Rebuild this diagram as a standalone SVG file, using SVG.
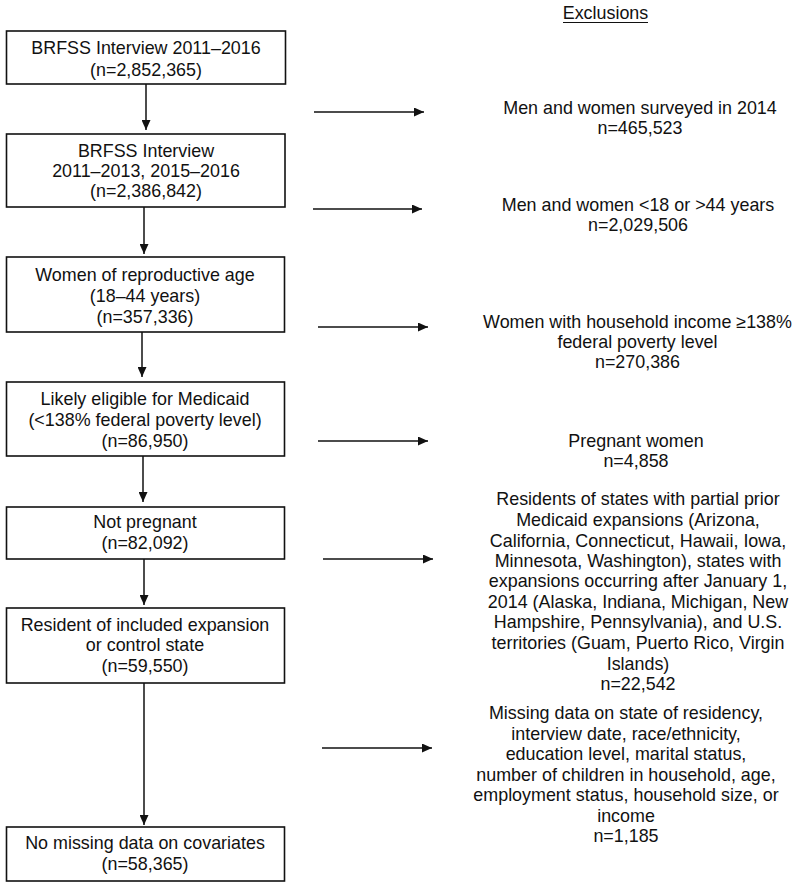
<svg xmlns="http://www.w3.org/2000/svg" width="800" height="890" viewBox="0 0 800 890">
<defs>
<marker id="ah" markerUnits="userSpaceOnUse" markerWidth="10" markerHeight="9" refX="10" refY="4.5" orient="auto">
<path d="M0,0 L10,4.5 L0,9 z" fill="#111"/>
</marker>
<style>
.box{fill:#fff;stroke:#111;stroke-width:1.6}
text{font-family:"Liberation Sans",Arial,sans-serif;font-size:17.9px;fill:#111;text-anchor:middle}
.con{stroke:#111;stroke-width:1.5;fill:none;marker-end:url(#ah)}
</style>
</defs>
<rect width="800" height="890" fill="#fff"/>

<g id="n1"><rect class="box" x="6.5" y="31" width="279" height="53"/>
<text x="146" y="54">BRFSS Interview 2011–2016</text><text x="146" y="76">(n=2,852,365)</text></g>
<g id="n2"><rect class="box" x="6.5" y="134" width="278.5" height="73"/>
<text x="146" y="157">BRFSS Interview</text><text x="146" y="177">2011–2013, 2015–2016</text><text x="146" y="197">(n=2,386,842)</text></g>
<g id="n3"><rect class="box" x="6.5" y="257" width="278" height="75"/>
<text x="145" y="281">Women of reproductive age</text><text x="145" y="302">(18–44 years)</text><text x="145" y="323">(n=357,336)</text></g>
<g id="n4"><rect class="box" x="6.5" y="382" width="278" height="74"/>
<text x="145" y="405">Likely eligible for Medicaid</text><text x="145" y="426">(&lt;138% federal poverty level)</text><text x="145" y="447">(n=86,950)</text></g>
<g id="n5"><rect class="box" x="6.5" y="507" width="278" height="52"/>
<text x="145" y="528">Not pregnant</text><text x="145" y="549">(n=82,092)</text></g>
<g id="n6"><rect class="box" x="6.5" y="608" width="278" height="75"/>
<text x="145" y="631">Resident of included expansion</text><text x="145" y="651">or control state</text><text x="145" y="672">(n=59,550)</text></g>
<g id="n7"><rect class="box" x="6.5" y="827" width="278" height="54"/>
<text x="145" y="849">No missing data on covariates</text><text x="145" y="870">(n=58,365)</text></g>

<g id="hdr"><text x="605.5" y="19">Exclusions</text><line x1="563" y1="22.5" x2="648" y2="22.5" stroke="#111" stroke-width="1"/></g>

<g id="e1"><text x="640" y="114">Men and women surveyed in 2014</text><text x="640" y="134">n=465,523</text></g>
<g id="e2"><text x="638" y="211">Men and women &lt;18 or &gt;44 years</text><text x="638" y="231">n=2,029,506</text></g>
<g id="e3"><text x="637.5" y="328">Women with household income ≥138%</text><text x="637.5" y="348">federal poverty level</text><text x="637.5" y="368">n=270,386</text></g>
<g id="e4"><text x="636" y="447">Pregnant women</text><text x="636" y="467">n=4,858</text></g>
<g id="e5">
<text x="638" y="505">Residents of states with partial prior</text>
<text x="638" y="526">Medicaid expansions (Arizona,</text>
<text x="638" y="547">California, Connecticut, Hawaii, Iowa,</text>
<text x="638" y="567">Minnesota, Washington), states with</text>
<text x="638" y="587">expansions occurring after January 1,</text>
<text x="638" y="608">2014 (Alaska, Indiana, Michigan, New</text>
<text x="638" y="628">Hampshire, Pennsylvania), and U.S.</text>
<text x="638" y="649">territories (Guam, Puerto Rico, Virgin</text>
<text x="638" y="670">Islands)</text>
<text x="638" y="690">n=22,542</text>
</g>
<g id="e6">
<text x="626" y="719">Missing data on state of residency,</text>
<text x="626" y="740">interview date, race/ethnicity,</text>
<text x="626" y="760">education level, marital status,</text>
<text x="626" y="781">number of children in household, age,</text>
<text x="626" y="801">employment status, household size, or</text>
<text x="626" y="822">income</text>
<text x="626" y="842">n=1,185</text>
</g>

<g id="connectors">
<line class="con" x1="146" y1="84" x2="146" y2="130"/>
<line class="con" x1="144" y1="207" x2="144" y2="254"/>
<line class="con" x1="142" y1="332" x2="142" y2="377"/>
<line class="con" x1="143" y1="456" x2="143" y2="502"/>
<line class="con" x1="144" y1="559" x2="144" y2="605"/>
<line class="con" x1="144" y1="683" x2="144" y2="825"/>
<line class="con" x1="314" y1="112" x2="424" y2="112"/>
<line class="con" x1="313" y1="209" x2="422" y2="209"/>
<line class="con" x1="318" y1="327" x2="428" y2="327"/>
<line class="con" x1="318" y1="441" x2="428" y2="441"/>
<line class="con" x1="323" y1="559" x2="433" y2="559"/>
<line class="con" x1="322" y1="748" x2="432" y2="748"/>
</g>
</svg>
